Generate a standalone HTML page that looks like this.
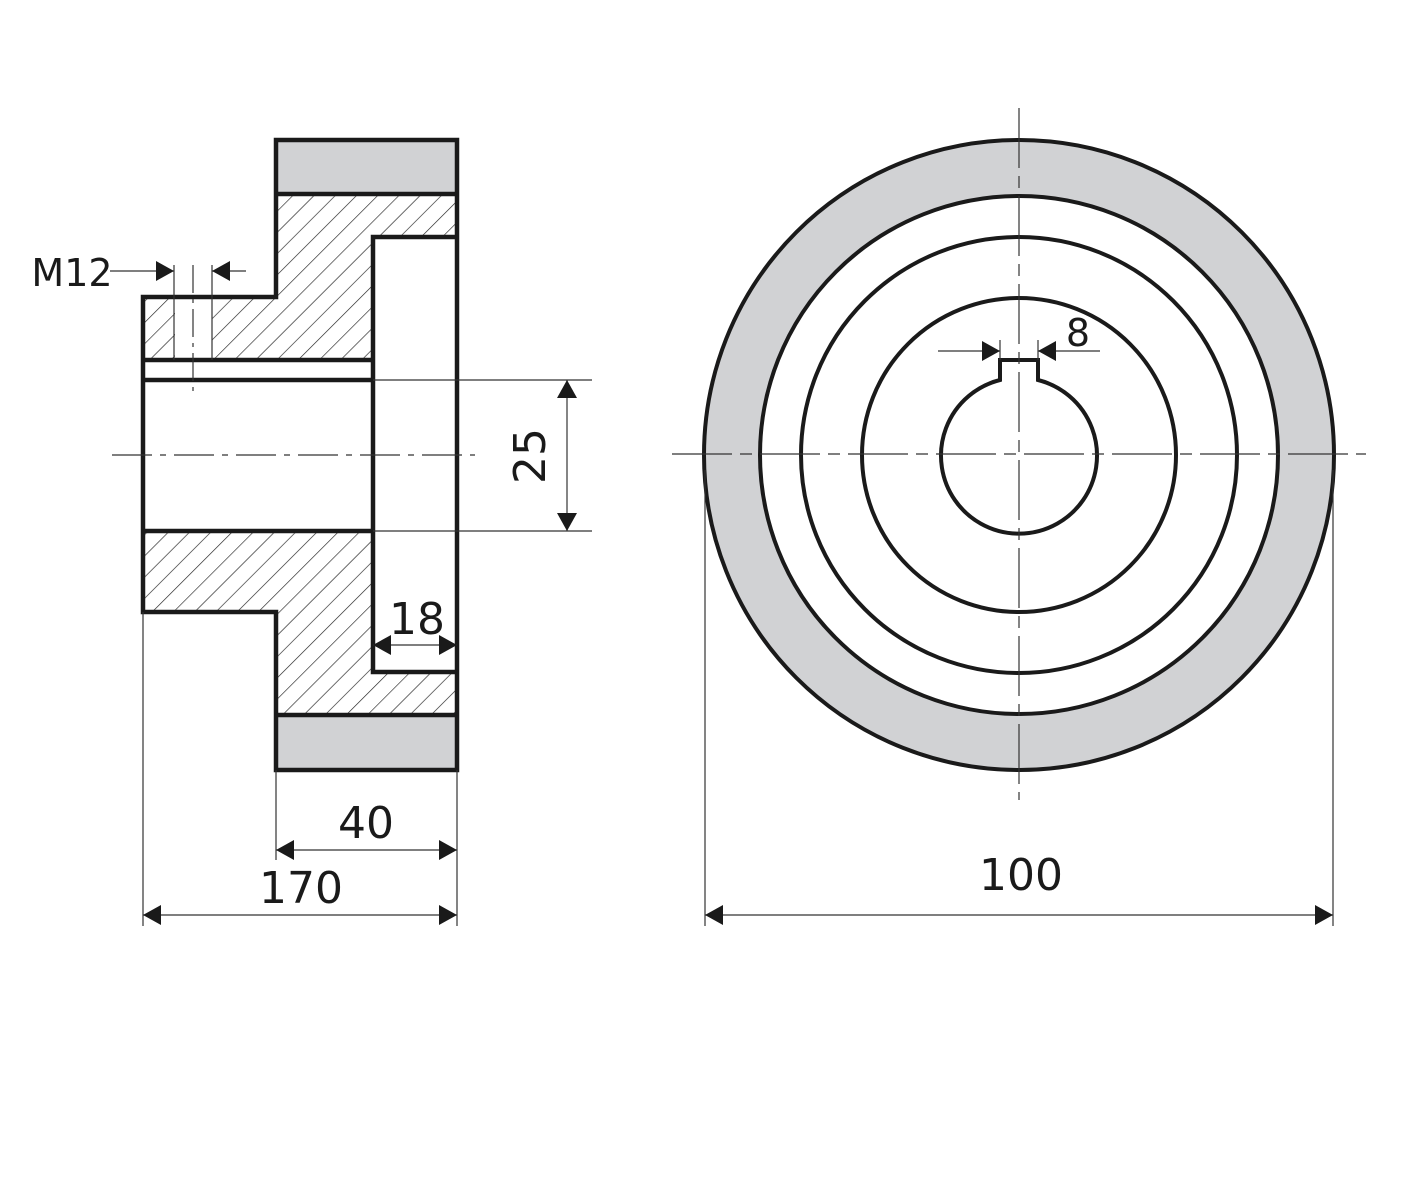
<!DOCTYPE html>
<html><head><meta charset="utf-8"><style>
html,body{margin:0;padding:0;background:#fff;}
svg{display:block;}
text{font-family:"DejaVu Sans","Liberation Sans",sans-serif;fill:#1a1a1a;}
</style></head><body>
<svg width="1420" height="1200" viewBox="0 0 1420 1200" xmlns="http://www.w3.org/2000/svg">
<defs>
<pattern id="h" patternUnits="userSpaceOnUse" width="15" height="15" patternTransform="rotate(45)">
<rect width="15" height="15" fill="#fff"/>
<line x1="0" y1="0" x2="0" y2="15" stroke="#222" stroke-width="1.3"/>
</pattern>
<marker id="a" viewBox="0 0 10 10" refX="10" refY="5" markerWidth="18" markerHeight="20" markerUnits="userSpaceOnUse" orient="auto" preserveAspectRatio="none"><path d="M0,0 L10,5 L0,10 Z" fill="#1a1a1a"/></marker>
</defs>
<rect width="1420" height="1200" fill="#fff"/>

<rect x="276" y="140" width="181" height="54" fill="#d1d2d4"/>
<rect x="276" y="715" width="181" height="55" fill="#d1d2d4"/>
<path d="M276,194 H457 V237 H373 V360 H143 V297 H276 Z" fill="url(#h)"/>
<path d="M143,531 H373 V672 H457 V715 H276 V612 H143 Z" fill="url(#h)"/>
<rect x="175" y="299" width="37" height="60" fill="#fff"/>
<g fill="none" stroke="#1a1a1a" stroke-width="4.5" stroke-linejoin="miter">
<path d="M276,140 H457 V770 H276 V612 H143 V297 H276 Z"/>
<line x1="276" y1="194" x2="457" y2="194"/>
<line x1="276" y1="715" x2="457" y2="715"/>
<path d="M457,237 H373 V672 H457"/>
<line x1="143" y1="360" x2="373" y2="360"/>
<line x1="143" y1="380" x2="373" y2="380"/>
<line x1="143" y1="531" x2="373" y2="531"/>
</g>
<g stroke="#333" stroke-width="1.2" fill="none">
<line x1="174" y1="265" x2="174" y2="360"/>
<line x1="212" y1="265" x2="212" y2="360"/>
<line x1="193" y1="265" x2="193" y2="392" stroke-dasharray="28,6,4,6"/>
<line x1="110" y1="271" x2="174" y2="271" marker-end="url(#a)"/>
<line x1="246" y1="271" x2="212" y2="271" marker-end="url(#a)"/>
<line x1="373" y1="380" x2="592" y2="380"/>
<line x1="373" y1="531" x2="592" y2="531"/>
<line x1="567" y1="455" x2="567" y2="380" marker-end="url(#a)"/>
<line x1="567" y1="455" x2="567" y2="531" marker-end="url(#a)"/>
<line x1="415" y1="645" x2="373" y2="645" marker-end="url(#a)"/>
<line x1="415" y1="645" x2="457" y2="645" marker-end="url(#a)"/>
<line x1="143" y1="612" x2="143" y2="926"/>
<line x1="276" y1="770" x2="276" y2="860"/>
<line x1="457" y1="770" x2="457" y2="926"/>
<line x1="366" y1="850" x2="276" y2="850" marker-end="url(#a)"/>
<line x1="366" y1="850" x2="457" y2="850" marker-end="url(#a)"/>
<line x1="300" y1="915" x2="143" y2="915" marker-end="url(#a)"/>
<line x1="300" y1="915" x2="457" y2="915" marker-end="url(#a)"/>
<line x1="112" y1="455" x2="475" y2="455" stroke-dasharray="40,8,6,8"/>
</g>
<text x="72" y="286" font-size="38" text-anchor="middle">M12</text>
<text x="0" y="0" font-size="44" text-anchor="middle" transform="translate(545,456) rotate(-90)">25</text>
<text x="417" y="634" font-size="44" text-anchor="middle">18</text>
<text x="366" y="838" font-size="44" text-anchor="middle">40</text>
<text x="301" y="903" font-size="44" text-anchor="middle">170</text>

<circle cx="1019" cy="455" r="287" fill="none" stroke="#d1d2d4" stroke-width="56"/>
<g fill="none" stroke="#1a1a1a" stroke-width="4">
<circle cx="1019" cy="455" r="315"/>
<circle cx="1019" cy="455" r="259"/>
<circle cx="1019" cy="455" r="218"/>
<circle cx="1019" cy="455" r="157"/>
<path d="M1000,380 V360 H1038 V380 A78,78 0 1 1 1000,380 Z"/>
</g>
<g stroke="#333" stroke-width="1.2" fill="none">
<line x1="672" y1="454" x2="1366" y2="454" stroke-dasharray="60,8,12,8"/>
<line x1="1019" y1="108" x2="1019" y2="800" stroke-dasharray="60,8,12,8"/>
<line x1="1000" y1="340" x2="1000" y2="360"/>
<line x1="1038" y1="340" x2="1038" y2="360"/>
<line x1="938" y1="351" x2="1000" y2="351" marker-end="url(#a)"/>
<line x1="1100" y1="351" x2="1038" y2="351" marker-end="url(#a)"/>
<line x1="705" y1="470" x2="705" y2="926"/>
<line x1="1333" y1="470" x2="1333" y2="926"/>
<line x1="1019" y1="915" x2="705" y2="915" marker-end="url(#a)"/>
<line x1="1019" y1="915" x2="1333" y2="915" marker-end="url(#a)"/>
</g>
<text x="1078" y="346" font-size="38" text-anchor="middle">8</text>
<text x="1021" y="890" font-size="44" text-anchor="middle">100</text>
</svg>
</body></html>
